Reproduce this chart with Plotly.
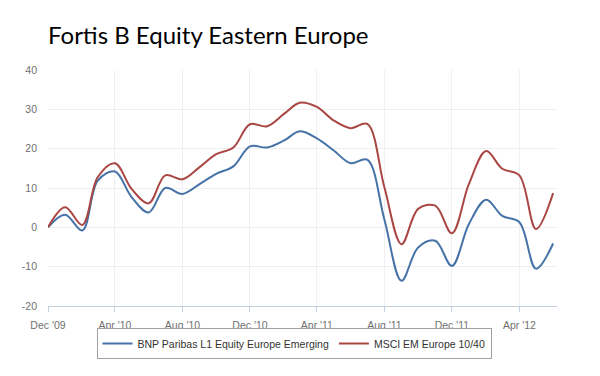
import plotly.graph_objects as go

months = ["2009-12-01", "2010-01-01", "2010-02-01", "2010-03-01", "2010-04-01", "2010-05-01",
          "2010-06-01", "2010-07-01", "2010-08-01", "2010-09-01", "2010-10-01", "2010-11-01",
          "2010-12-01", "2011-01-01", "2011-02-01", "2011-03-01", "2011-04-01", "2011-05-01",
          "2011-06-01", "2011-07-01", "2011-08-01", "2011-09-01", "2011-10-01", "2011-11-01",
          "2011-12-01", "2012-01-01", "2012-02-01", "2012-03-01", "2012-04-01", "2012-05-01",
          "2012-06-01"]

bnp = [0, 3.2, -0.8, 11.9, 14.2, 7.7, 3.8, 10.0, 8.5, 11.0, 13.6, 15.5,
       20.6, 20.3, 22.1, 24.4, 22.6, 19.6, 16.3, 17.2, 2.0, -13.6, -5.1, -3.4,
       -9.8, 0.9, 7.0, 2.9, 1.3, -10.5, -4.1]

msci = [0, 5.1, 0.6, 12.8, 16.3, 9.8, 6.1, 13.2, 12.2, 15.3, 18.6, 20.3,
        26.2, 25.7, 28.9, 31.7, 30.6, 27.2, 25.2, 26.3, 10.2, -4.3, 4.7, 5.5,
        -1.5, 11.1, 19.4, 14.9, 13.2, -0.4, 8.7]

series_names = ["BNP Paribas L1 Equity Europe Emerging", "MSCI EM Europe 10/40"]
tick_dates = ["2009-12-01", "2010-04-01", "2010-08-01", "2010-12-01",
              "2011-04-01", "2011-08-01", "2011-12-01", "2012-04-01"]
tick_labels = ["Dec '09", "Apr '10", "Aug '10", "Dec '10", "Apr '11", "Aug '11", "Dec '11", "Apr '12"]
y_ticks = [-20, -10, 0, 10, 20, 30, 40]
y_labels = ["-20", "-10", "0", "10", "20", "30", "40"]

fig = go.Figure()
fig.add_trace(go.Scatter(x=months, y=bnp, name=series_names[0], mode="lines",
                         line=dict(color="#4572A7", width=2, shape="spline", smoothing=1)))
fig.add_trace(go.Scatter(x=months, y=msci, name=series_names[1], mode="lines",
                         line=dict(color="#AA4643", width=2, shape="spline", smoothing=1)))

fig.update_layout(
    width=600, height=376,
    paper_bgcolor="white", plot_bgcolor="white",
    margin=dict(l=48, r=43, t=70, b=70, autoexpand=False),
    title=dict(text="Fortis B Equity Eastern Europe", x=48/600, xanchor="left",
               y=1 - 36/376, yanchor="middle",
               font=dict(family="Lato", size=24, color="#000000")),
    showlegend=True,
    legend=dict(orientation="h", xref="container", yref="container",
                x=294/600, xanchor="center", y=1 - 343.5/376, yanchor="middle",
                bordercolor="#a0a0a0", borderwidth=1,
                font=dict(family="Liberation Sans, Arial", size=10.5, color="#333333"),
                itemwidth=30, tracegroupgap=0),
    font=dict(family="Liberation Sans, Arial", size=10, color="#707070"),
)
fig.update_xaxes(type="date", range=["2009-12-01", "2012-06-08"],
                 tickvals=tick_dates, ticktext=tick_labels,
                 showgrid=True, gridcolor="#eef0f4", gridwidth=1,
                 showline=True, linecolor="#C0D0E0", linewidth=1,
                 ticks="outside", ticklen=5, tickcolor="#C0D0E0",
                 ticklabelstandoff=4, automargin=False,
                 tickfont=dict(size=10.5, color="#707070"), zeroline=False)
fig.update_yaxes(range=[-20, 40], tickvals=y_ticks, ticktext=y_labels,
                 showgrid=True, gridcolor="#eeeeee", gridwidth=1,
                 showline=False, zeroline=False, ticks="", ticklabelstandoff=10,
                 automargin=False,
                 tickfont=dict(size=10.5, color="#707070"))

fig.write_html("out.html", config={"displayModeBar": False},
               post_script="document.body.style.margin='0';")
